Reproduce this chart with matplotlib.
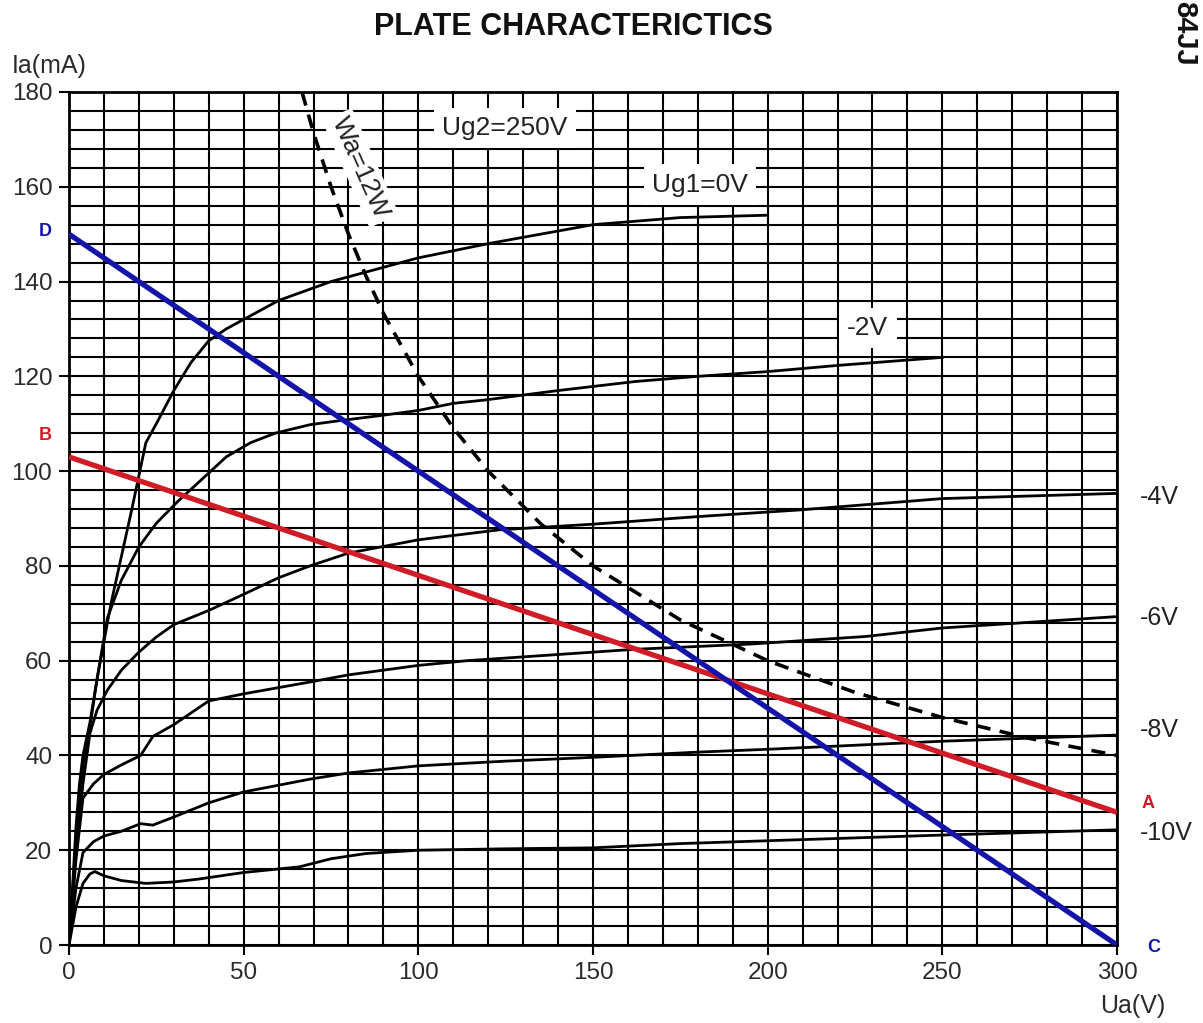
import numpy as np
import matplotlib
matplotlib.use("Agg")
import matplotlib.pyplot as plt

plt.rcParams['font.family'] = ['Liberation Sans', 'DejaVu Sans']

# Plate characteristics, screen grid at Ug2 = 250 V
ua_g0 = [0, 1, 2, 3, 4, 6, 8, 10, 12, 15, 18, 20, 22, 25, 30, 35, 40, 45, 50, 60, 75, 90, 100, 120, 150, 175, 200]
ia_g0 = [0, 12, 25, 34, 40, 47, 56, 64, 72, 82, 92, 99, 106, 110, 117, 123, 127.5, 130, 132, 136, 140, 143, 145, 148, 152, 153.5, 154]

ua_g2 = [0, 2, 4, 6, 8, 11, 15, 20, 25, 31, 40, 45, 52, 59, 69, 77, 90, 100, 110, 119, 140, 162, 180, 200, 220, 250]
ia_g2 = [0, 22, 38, 46, 56, 69, 77, 84, 89, 93.5, 99.6, 103, 106, 108, 109.8, 110.6, 111.8, 112.8, 114.3, 115, 117, 118.9, 120, 121, 122.3, 124]

ua_g4 = [0, 2, 4, 6, 8, 11, 15, 20, 25, 30, 40, 50, 60, 69, 80, 100, 123, 150, 180, 209, 250, 300]
ia_g4 = [0, 20, 34, 44.7, 49.5, 53.8, 58, 61.8, 65, 67.6, 70.6, 74, 77.5, 80, 82.7, 85.5, 87.6, 88.8, 90.4, 91.8, 94.2, 95.3]

ua_g6 = [0, 2, 4, 7, 10, 15, 20.5, 24, 30, 40, 50, 69, 80, 100, 114, 140, 162, 180, 195, 228, 250, 300]
ia_g6 = [0, 18, 31, 34, 36, 38, 40, 44, 46.5, 51.5, 53, 55.5, 57, 59, 60, 61.3, 62.4, 63, 63.5, 65.1, 66.9, 69.3]

ua_g8 = [0, 2, 4, 7, 10, 15, 20.5, 24, 30, 40, 50, 69, 80, 100, 125, 150, 180, 200, 250, 300]
ia_g8 = [0, 12, 19.5, 21.8, 23, 24, 25.6, 25.3, 27, 30, 32.3, 35, 36.3, 37.8, 38.8, 39.6, 40.7, 41.3, 43, 44.3]

ua_g10 = [0, 2, 4, 6, 7.4, 10, 15, 22, 30, 37, 50, 66, 75, 85, 100, 125, 150, 175, 200, 250, 300]
ia_g10 = [0, 8, 13, 15, 15.5, 14.6, 13.6, 13, 13.3, 13.9, 15.3, 16.5, 18.2, 19.3, 20, 20.3, 20.5, 21.4, 22, 23.2, 24.3]

# Maximum plate dissipation Wa = 12 W
ua_wa = [66.7, 70, 75, 80, 85, 90, 100, 110, 120, 135, 150, 175, 200, 225, 250, 275, 300]
ia_wa = [180, 171.4, 160, 150, 141.2, 133.3, 120, 109.1, 100, 88.9, 80, 68.6, 60, 53.3, 48, 43.6, 40]

# Load lines
load_ab_ua = [300, 0]
load_ab_ia = [28, 103]
load_cd_ua = [300, 0]
load_cd_ia = [0, 150]

fig = plt.figure(figsize=(12.03, 10.23), dpi=100)
ax = fig.add_axes([69 / 1203, 1 - 945 / 1023, 1048 / 1203, 853 / 1023])

ax.set_xlim(0, 300)
ax.set_ylim(0, 180)
ax.set_xticks(np.arange(0, 301, 50))
ax.set_yticks(np.arange(0, 181, 20))
ax.set_xticks(np.arange(0, 301, 10), minor=True)
ax.set_yticks(np.arange(0, 181, 4), minor=True)
ax.grid(which='both', color='black', linewidth=1.5)
ax.set_axisbelow(True)
ax.tick_params(which='major', direction='out', length=7, width=1.5, pad=5,
               labelsize=17.5, labelcolor='#2a2a2a')
ax.tick_params(which='minor', length=0)
for s in ax.spines.values():
    s.set_linewidth(2)
    s.set_color('black')

curve_kw = dict(color='black', linewidth=2, solid_joinstyle='round', zorder=3)
for u, i in [(ua_g0, ia_g0), (ua_g2, ia_g2), (ua_g4, ia_g4),
             (ua_g6, ia_g6), (ua_g8, ia_g8), (ua_g10, ia_g10)]:
    ax.plot(u, i, **curve_kw)

wa_line, = ax.plot(ua_wa, ia_wa, color='black', linewidth=2.6, zorder=3)
wa_line.set_dashes([3.9, 2.6])

ax.plot(load_ab_ua, load_ab_ia, color='#d01c26', linewidth=3.8, zorder=4,
        solid_capstyle='butt')
ax.plot(load_cd_ua, load_cd_ia, color='#1414a8', linewidth=3.8, zorder=5,
        solid_capstyle='butt')

box = dict(facecolor='white', edgecolor='none', pad=6)
ax.text(124.8, 172.4, 'Ug2=250V', fontsize=19, color='#222222',
        ha='center', va='center', bbox=box, zorder=6)
ax.text(180.6, 160.4, 'Ug1=0V', fontsize=19, color='#222222',
        ha='center', va='center', bbox=box, zorder=6)
ax.text(228.7, 130.2, '-2V', fontsize=19, color='#222222',
        ha='center', va='center', bbox=box, zorder=6)
ax.text(83.5, 164.0, 'Wa=12W', fontsize=19, color='#222222', rotation=-66,
        ha='center', va='center', bbox=dict(facecolor='white', edgecolor='none', pad=3),
        zorder=6, rotation_mode='anchor')

side_kw = dict(fontsize=18, color='#222222', ha='left', va='center', clip_on=False)
ax.text(306.5, 94.5, '-4V', **side_kw)
ax.text(306.5, 69.0, '-6V', **side_kw)
ax.text(306.5, 45.4, '-8V', **side_kw)
ax.text(306.5, 23.6, '-10V', **side_kw)

pt_kw = dict(fontsize=13, fontweight='bold', ha='center', va='center', clip_on=False)
ax.text(309.0, 29.8, 'A', color='#d01c26', **pt_kw)
ax.text(-6.9, 107.6, 'B', color='#d01c26', **pt_kw)
ax.text(310.5, -0.6, 'C', color='#1414a8', **pt_kw)
ax.text(-6.9, 150.5, 'D', color='#1414a8', **pt_kw)

fig.text(573 / 1203, 1 - 27 / 1023, 'PLATE CHARACTERICTICS', fontsize=22,
         fontweight='bold', color='#111111', ha='center', va='center')
fig.text(12 / 1203, 1 - 66 / 1023, 'Ia(mA)', fontsize=18, color='#2a2a2a',
         ha='left', va='center')
fig.text(1165 / 1203, 1 - 1006 / 1023, 'Ua(V)', fontsize=18, color='#2a2a2a',
         ha='right', va='center')
fig.text(1184 / 1203, 1 - 1 / 1023, '84JJ', fontsize=21, fontweight='bold',
         color='#111111', rotation=-90, ha='center', va='top')

fig.savefig('out.png', dpi=100, facecolor='white')
